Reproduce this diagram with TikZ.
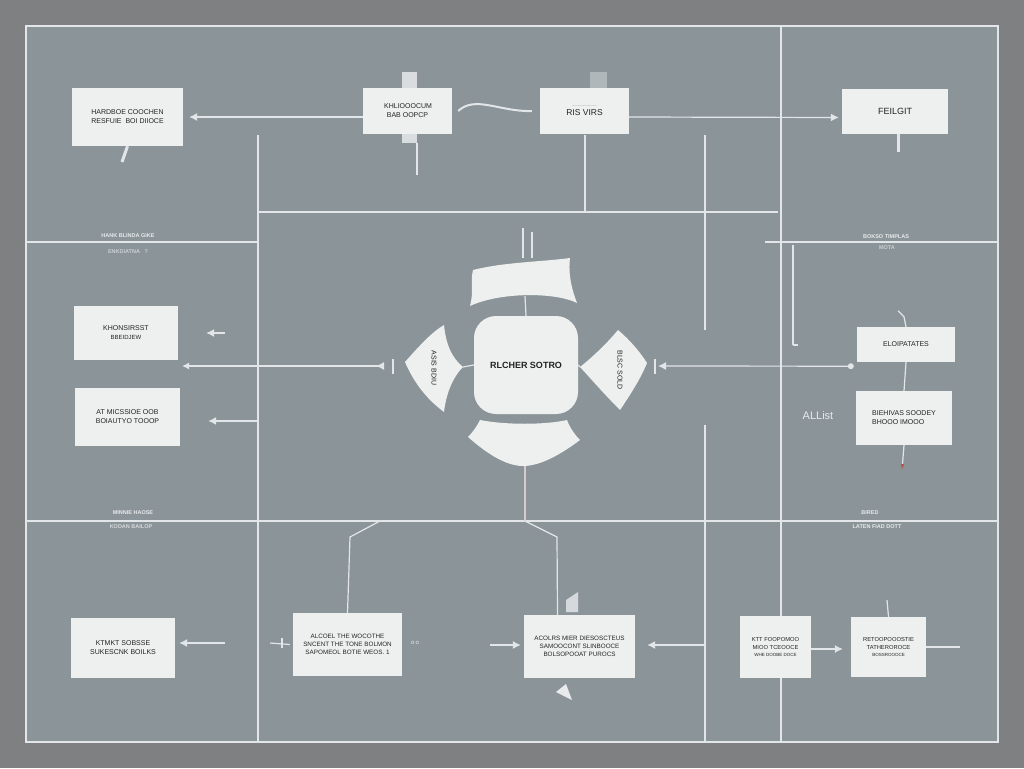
\documentclass[tikz,border=0pt]{standalone}
\usepackage{fontspec}
\setmainfont{Liberation Sans}
\usetikzlibrary{arrows.meta,calc}
\definecolor{outerbg}{RGB}{126,128,130}
\definecolor{panel}{RGB}{139,149,153}
\definecolor{gridline}{RGB}{226,230,232}
\definecolor{boxfill}{RGB}{238,239,239}
\definecolor{shade}{RGB}{120,128,132}
\definecolor{ink}{RGB}{35,35,35}
\definecolor{faint}{RGB}{232,234,236}
\definecolor{redtip}{RGB}{170,90,80}
\tikzset{
  grid/.style={draw=gridline, line width=1.6pt},
  conn/.style={draw=gridline, line width=1.2pt},
  arr/.style={conn, -{Latex[length=8pt,width=8pt]}},
  box/.style={fill=boxfill, draw=none, align=center, text=ink, inner sep=2pt,
    font=\fontsize{7}{9}\selectfont},
  petal/.style={fill=boxfill, draw=none},
  side/.style={text=faint, font=\fontsize{5.5}{6}\selectfont\bfseries},
}
\begin{document}
\begin{tikzpicture}[x=1pt,y=-1pt]
\fill[outerbg] (0,0) rectangle (1024,768);
\useasboundingbox (0,0) rectangle (1024,768);
\fill[panel] (26,26) rectangle (998,742);
\draw[grid] (26,26) rectangle (998,742);
% grid lines
\draw[grid] (26,242) -- (258,242);
\draw[grid] (765,242) -- (998,242);
\draw[grid] (258,212) -- (778,212);
\draw[grid] (26,521) -- (998,521);
\draw[grid] (258,135) -- (258,742);
\draw[grid] (781,26) -- (781,742);
\draw[grid] (705,135) -- (705,330);
\draw[grid] (705,425) -- (705,742);
\draw[conn] (585,135) -- (585,212);
\draw[conn] (793,245) -- (793,345);
% overlay strips
\fill[faint!85!panel] (402,72) rectangle (417,143);
\fill[faint!40!panel] (590,72) rectangle (607,90);
\draw[conn] (417,143) -- (417,175);

% top row
\node[box, minimum width=111pt, minimum height=58pt] (tl) at (127.5,117) {HARDBOE COOCHEN\\RESFUIE\ \ BOI DIIOCE};
\node[box, minimum width=89pt, minimum height=46pt] (t2) at (407.5,111) {\,KHLIOOOCUM\\BAB OOPCP\hspace{14pt}};
\node[box, minimum width=89pt, minimum height=46pt, font=\fontsize{8.5}{9}\selectfont] (t3) at (584.5,111) {{\fontsize{3}{3}\selectfont ..............................}\\RIS VIRS};
\node[box, minimum width=106pt, minimum height=45pt, font=\fontsize{9}{10}\selectfont] (tr) at (895,111.5) {FEILGIT};

\draw[arr] (t2.west |- 0,117) -- ([xshift=6pt]tl.east |- 0,117);
\draw[arr] ([yshift=-6pt]t3.east) -- ([yshift=-6pt,xshift=-3pt]tr.west);
\draw[conn, line width=2pt] ([xshift=6pt]t2.east) .. controls (475,95) and (500,112) .. ([xshift=-8pt]t3.west);
\coordinate (tlp) at (122,162);
\draw[conn, line width=3pt] (tl.south) -- (tlp);
\coordinate (trp) at (898,152);
\draw[conn, line width=3pt] ([xshift=3pt]tr.south) -- (trp);

% side labels
\node[side] (s1) at (128,236) {HANK BLINDA GIKE};
\node[side, text=faint!70!panel] (s2) at (128,252) {ENKDIATNA \ \ ?};
\node[side] (s3) at (886,237) {BOKSO TIMPLAS};
\node[side, text=faint!70!panel] (s4) at (887,248) {MOTA};
\node[side] (s5) at (133,513) {MINNIE HAOSE};
\node[side, text=faint!80!panel] (s6) at (131,527) {KODAN BAILOP};
\node[side] (s7) at (870,513) {BIRED};
\node[side] (s8) at (877,527) {LATEN FIAD DOTT};

% centre cluster
\node[box, minimum width=104pt, minimum height=98pt, rounded corners=22pt,
  font=\fontsize{9}{10}\selectfont\bfseries] (core) at (526,365) {RLCHER SOTRO};
\fill[petal] (405,362) .. controls (420,345) and (432,332) .. (444,325)
  .. controls (446,345) and (452,358) .. (463,367)
  .. controls (452,378) and (446,395) .. (444,412)
  .. controls (428,400) and (415,385) .. cycle;
\node[rotate=-90, text=ink, font=\fontsize{7}{8}\selectfont] (lpt) at (434,368) {ASIS BDIU};
\coordinate (lptip) at (463,367);
\fill[petal] (580,367) .. controls (595,355) and (608,342) .. (618,330)
  .. controls (630,340) and (640,352) .. (647,363)
  .. controls (640,380) and (630,395) .. (620,410)
  .. controls (605,395) and (592,380) .. cycle;
\node[rotate=-90, text=ink, font=\fontsize{7}{8}\selectfont] (rpt) at (620,370) {BLSC SOLD};
\coordinate (rptip) at (580,367);
\fill[petal] (473,270) .. controls (505,262) and (540,262) .. (570,258)
  .. controls (568,275) and (572,290) .. (577,303)
  .. controls (555,292) and (500,292) .. (470,306)
  .. controls (474,292) and (470,282) .. cycle;
\coordinate (tbb) at (525,296);
\fill[petal] (480,420) .. controls (505,425) and (545,425) .. (567,420)
  .. controls (570,428) and (575,435) .. (580,440)
  .. controls (560,455) and (540,466) .. (523,466)
  .. controls (505,466) and (485,452) .. (468,437)
  .. controls (473,432) and (477,426) .. cycle;
\coordinate (bbb) at (525,466);
\draw[conn] (core.west) -- (lptip);
\draw[conn] (core.east) -- (rptip);
\draw[conn] (core.north) -- (tbb);
\draw[conn] (523,228) -- (523,258);
\draw[conn] (532,232) -- (532,258);
\coordinate (cmid) at (525,521);
\draw[conn, draw=gridline!80!redtip] (bbb) -- (cmid);

% left middle
\node[box, minimum width=104pt, minimum height=54pt] (l1) at (126,333) {KHONSIRSST\\{\fontsize{6}{7}\selectfont BBEIDJEW}\hspace{16pt}};
\node[box, minimum width=105pt, minimum height=58pt] (l2) at (127.5,417) {AT MICSSIOE OOB\\BOIAUTYO TOOOP};
\coordinate (lpw) at (398,366);
\coordinate (l1b) at (182,366);
\draw[conn, {Latex[reversed,length=8pt,width=8pt]}-{Latex[length=7pt,width=7pt]}] ([xshift=-14pt]lpw) -- (l1b);
\draw[conn] (393,359) -- (393,374);
\coordinate (l1a) at (225,333);
\draw[arr] (l1a) -- ([xshift=28pt]l1.east);
\coordinate (l2a) at (258,421);
\draw[arr] (l2a) -- ([xshift=28pt,yshift=-4pt]l2.east);

% right middle
\node[box, minimum width=98pt, minimum height=35pt] (r1) at (906,344.5) {ELOIPATATES};
\node[box, minimum width=96pt, minimum height=54pt, align=left] (r2) at (904,418) {BIEHIVAS SOODEY\\BHOOO IMOOO};
\node[text=faint, font=\fontsize{11}{12}\selectfont] (al) at (818,416) {ALList};
\coordinate (rpe) at (658,366);
\draw[arr] ([xshift=-6pt,yshift=-4pt]r1.south west) -- (rpe);
\draw[conn] (655,359) -- (655,374);
\fill[gridline] ($(r1.south west)+(-6,4)$) circle (3pt);
\draw[conn] (793,345) -- (798,345);
\draw[conn] (r1.south) -- (r2.north);
\draw[conn] (r1.north) -- ++(-2,-10) -- ++(-6,-6);
\coordinate (r2d) at (902,470);
\draw[conn, -{Latex[length=6pt,width=4pt,color=redtip]}] (r2.south) -- (r2d);

% bottom row
\node[box, minimum width=104pt, minimum height=60pt] (b1) at (123,648) {KTMKT SOBSSE\\SUKESCNK BOILKS};
\node[box, minimum width=109pt, minimum height=63pt, font=\fontsize{6.3}{8}\selectfont] (b2) at (347.5,644.5) {ALCOEL THE WOCOTHE\\SNCENT THE TONE BOLMON\\SAPOMEOL BOTIE WEOS. 1};
\node[box, minimum width=111pt, minimum height=63pt, font=\fontsize{6.3}{8}\selectfont] (b3) at (579.5,646.5) {ACOLRS MIER DIESOSCTEUS\\SAMOOCONT SLINBOOCE\\BOLSOPOOAT PUROCS};
\node[box, minimum width=71pt, minimum height=62pt, font=\fontsize{5.8}{7.5}\selectfont] (b4) at (775.5,647) {KTT FOOPOMOO\\MIOO TCEOOCE\\{\fontsize{4.5}{6}\selectfont WHE DOOBE DOCE}};
\node[box, minimum width=75pt, minimum height=60pt, font=\fontsize{5.8}{7.5}\selectfont] (b5) at (888.5,647) {RETOOPOOOSTIE\\TATHEROROCE\\{\fontsize{4.5}{6}\selectfont BOSSROOOCE}};

\coordinate (b1a) at (225,643);
\draw[arr] (b1a) -- ([xshift=4pt,yshift=5pt]b1.east);
\draw[conn] (b2.north) -- (350,537) -- (380,521);
\draw[conn] ([xshift=-22pt]b3.north) -- (557,537) -- (cmid);
\draw[conn] (270,643) -- ([xshift=-3pt]b2.west);
\draw[conn] (282,638) -- (282,648);
\node[text=faint, font=\fontsize{6}{7}\selectfont] (oo) at (415,643) {o\,o};
\coordinate (b3l) at (490,645);
\draw[arr] (b3l) -- ([xshift=-3pt]b3.west |- 0,645);
\draw[arr] (705,645) -- ([xshift=12pt]b3.east |- 0,645);
\draw[arr] ([yshift=-2pt]b4.east) -- ([xshift=-8pt,yshift=-2pt]b5.west);
\draw[conn] (b5.east) -- (960,647);
\draw[conn] (887,600) -- (b5.north);
\fill[faint!80!panel] (566,612) -- (566,600) -- (578,592) -- (578,612) -- cycle;
\coordinate (b3d) at (566,702);
\fill[faint] (556,692) -- (566,684) -- (572,700) -- cycle;
\end{tikzpicture}
\end{document}
